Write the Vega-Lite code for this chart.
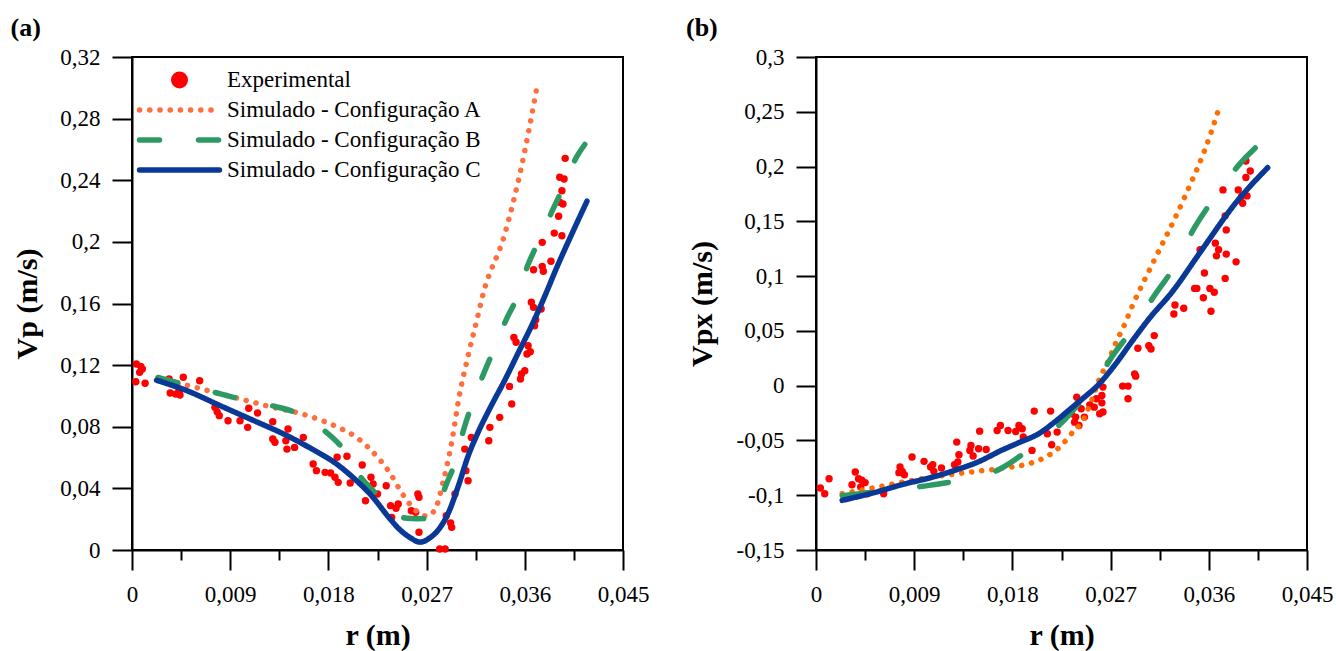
{
  "$schema": "https://vega.github.io/schema/vega-lite/v6.json",
  "background": "white",
  "padding": {"left": 9, "top": 14, "right": 5, "bottom": 5},
  "bounds": "flush",
  "spacing": 193,
  "config": {
    "font": "Liberation Serif, Times New Roman, serif",
    "view": {"stroke": "black", "strokeWidth": 2},
    "axis": {"grid": false, "domainColor": "black", "domainWidth": 2, "tickColor": "black", "tickWidth": 2, "labelColor": "black", "labelFont": "Liberation Serif, Times New Roman, serif", "labelFontSize": 23, "titleFont": "Liberation Serif, Times New Roman, serif", "titleFontSize": 30, "titleFontWeight": "bold", "titleColor": "black"},
    "legend": {"labelFont": "Liberation Serif, Times New Roman, serif"},
    "title": {"font": "Liberation Serif, Times New Roman, serif", "fontSize": 26, "fontWeight": "bold", "color": "black", "anchor": "start", "frame": "group"}
  },
  "datasets": {
    "ptsA": [
      {"r":0.0004,"v":0.1207},{"r":0.0008,"v":0.1192},{"r":0.00095,"v":0.1175},{"r":0.0007,"v":0.1153},{"r":0.00035,"v":0.1092},{"r":0.0012,"v":0.1082},{"r":0.0034,"v":0.111},{"r":0.0041,"v":0.1077},{"r":0.0047,"v":0.1121},{"r":0.0062,"v":0.1099},{"r":0.0035,"v":0.1019},{"r":0.004,"v":0.1012},{"r":0.0044,"v":0.1006},{"r":0.0043,"v":0.1034},{"r":0.0076,"v":0.0926},{"r":0.0078,"v":0.0898},{"r":0.008,"v":0.0872},{"r":0.0088,"v":0.0839},{"r":0.0099,"v":0.0839},{"r":0.0106,"v":0.0796},{"r":0.0107,"v":0.092},{"r":0.0115,"v":0.0889},{"r":0.0129,"v":0.0833},{"r":0.0129,"v":0.072},{"r":0.0131,"v":0.0699},{"r":0.0143,"v":0.0785},{"r":0.0141,"v":0.0709},{"r":0.0142,"v":0.0655},{"r":0.0149,"v":0.0666},{"r":0.0157,"v":0.0731},{"r":0.0166,"v":0.0558},{"r":0.0169,"v":0.0515},{"r":0.0177,"v":0.0504},{"r":0.0182,"v":0.05},{"r":0.0186,"v":0.0472},{"r":0.0189,"v":0.0439},{"r":0.0188,"v":0.0602},{"r":0.0197,"v":0.0608},{"r":0.02,"v":0.0435},{"r":0.0211,"v":0.0552},{"r":0.0214,"v":0.032},{"r":0.0219,"v":0.0472},{"r":0.0221,"v":0.0428},{"r":0.0225,"v":0.0363},{"r":0.0233,"v":0.0417},
      {"r":0.0237,"v":0.0288},{"r":0.0242,"v":0.0271},{"r":0.0244,"v":0.0299},{"r":0.0238,"v":0.0212},{"r":0.0256,"v":0.0255},{"r":0.026,"v":0.0245},{"r":0.0262,"v":0.0363},{"r":0.0263,"v":0.0342},{"r":0.0263,"v":0.0115},{"r":0.0282,"v":0.0006},{"r":0.0287,"v":0.0006},{"r":0.0288,"v":0.0223},{"r":0.0292,"v":0.0175},{"r":0.0293,"v":0.0147},{"r":0.0296,"v":0.0363},{"r":0.0306,"v":0.0515},{"r":0.0308,"v":0.045},{"r":0.0305,"v":0.0655},{"r":0.0311,"v":0.0731},{"r":0.0327,"v":0.0709},{"r":0.0328,"v":0.0796},{"r":0.0337,"v":0.0861},{"r":0.0348,"v":0.0948},{"r":0.0346,"v":0.1062},{"r":0.0356,"v":0.111},{"r":0.0357,"v":0.1142},{"r":0.036,"v":0.1164},{"r":0.035,"v":0.138},{"r":0.0352,"v":0.1348},{"r":0.0363,"v":0.1326},{"r":0.0365,"v":0.1287},{"r":0.0362,"v":0.1272},{"r":0.0369,"v":0.1456},{"r":0.037,"v":0.1495},{"r":0.0366,"v":0.1608},{"r":0.0368,"v":0.1575},{"r":0.0375,"v":0.1564},
      {"r":0.0397,"v":0.2542},{"r":0.0392,"v":0.2419},{"r":0.0396,"v":0.2408},{"r":0.0394,"v":0.2332},{"r":0.0392,"v":0.2257},{"r":0.0395,"v":0.2246},{"r":0.0391,"v":0.2166},{"r":0.0387,"v":0.2057},{"r":0.0394,"v":0.204},{"r":0.0376,"v":0.1997},{"r":0.0384,"v":0.1874},{"r":0.0368,"v":0.1819},{"r":0.0376,"v":0.1841},{"r":0.0377,"v":0.1809}
    ],
    "ptsB": [
      {"r":0.0004,"v":-0.0934},{"r":0.0008,"v":-0.0986},{"r":0.0012,"v":-0.0849},{"r":0.0036,"v":-0.0788},{"r":0.0033,"v":-0.0904},{"r":0.0039,"v":-0.0849},{"r":0.0042,"v":-0.0864},{"r":0.0045,"v":-0.0885},{"r":0.0041,"v":-0.0925},{"r":0.0047,"v":-0.0986},{"r":0.0062,"v":-0.0986},{"r":0.0077,"v":-0.0743},{"r":0.0079,"v":-0.0782},{"r":0.0076,"v":-0.0794},{"r":0.0081,"v":-0.0813},{"r":0.0088,"v":-0.0651},{"r":0.0099,"v":-0.0691},{"r":0.0105,"v":-0.0743},{"r":0.0107,"v":-0.0722},{"r":0.0108,"v":-0.0782},{"r":0.0115,"v":-0.0752},{"r":0.0129,"v":-0.0515},{"r":0.0131,"v":-0.063},{"r":0.013,"v":-0.0697},{"r":0.0127,"v":-0.0722},{"r":0.0142,"v":-0.0546},{"r":0.0141,"v":-0.0591},{"r":0.0149,"v":-0.0576},{"r":0.0156,"v":-0.0582},{"r":0.0144,"v":-0.0642},{"r":0.015,"v":-0.0415},{"r":0.0166,"v":-0.0409},{"r":0.0169,"v":-0.0363},{"r":0.0176,"v":-0.0409},{"r":0.0183,"v":-0.0418},{"r":0.0186,"v":-0.0363},{"r":0.0189,"v":-0.0394},{"r":0.019,"v":-0.0469},{"r":0.0198,"v":-0.0591},{"r":0.02,"v":-0.0232},{"r":0.0215,"v":-0.0232},{"r":0.0212,"v":-0.0439},{"r":0.0221,"v":-0.0424},{"r":0.0216,"v":-0.0539},{"r":0.0234,"v":-0.0257},{"r":0.0237,"v":-0.0333},
      {"r":0.0239,"v":-0.0105},{"r":0.0243,"v":-0.0211},{"r":0.0238,"v":-0.0287},{"r":0.0241,"v":-0.0363},{"r":0.0246,"v":-0.0287},{"r":0.0251,"v":-0.0175},{"r":0.0255,"v":-0.0196},{"r":0.0257,"v":-0.012},{"r":0.0262,"v":-0.009},{"r":0.0262,"v":-0.0157},{"r":0.026,"v":-0.0257},{"r":0.0263,"v":-0.0241},{"r":0.0263,"v":-0.0013},{"r":0.0281,"v":-0.0004},{"r":0.0286,"v":-0.0004},{"r":0.0286,"v":-0.012},{"r":0.0292,"v":0.0108},{"r":0.0293,"v":0.0087},{"r":0.0305,"v":0.0365},{"r":0.0307,"v":0.0335},{"r":0.031,"v":0.0457},{"r":0.0295,"v":0.0341},{"r":0.0328,"v":0.0654},{"r":0.0337,"v":0.0706},{"r":0.0329,"v":0.0736},
      {"r":0.0347,"v":0.0888},{"r":0.0349,"v":0.0888},{"r":0.0356,"v":0.1028},{"r":0.0355,"v":0.0803},{"r":0.0361,"v":0.0888},{"r":0.0365,"v":0.0852},{"r":0.0362,"v":0.0679},{"r":0.0375,"v":0.0979},{"r":0.0352,"v":0.124},{"r":0.0366,"v":0.1301},{"r":0.0369,"v":0.124},{"r":0.0367,"v":0.1185},{"r":0.0376,"v":0.1201},{"r":0.0385,"v":0.113},{"r":0.0375,"v":0.155},{"r":0.0376,"v":0.1422},{"r":0.0373,"v":0.1787},{"r":0.0387,"v":0.1787},{"r":0.039,"v":0.1726},{"r":0.0391,"v":0.1665},{"r":0.0395,"v":0.1732},{"r":0.0394,"v":0.19},{"r":0.0398,"v":0.196},{"r":0.0394,"v":0.2051}
    ],
    "linesA": [
      {"s":"Simulado - Configuração A","r":0.0024,"v":0.112},{"s":"Simulado - Configuração A","r":0.005,"v":0.107},{"s":"Simulado - Configuração A","r":0.0076,"v":0.1023},{"s":"Simulado - Configuração A","r":0.0105,"v":0.097},{"s":"Simulado - Configuração A","r":0.0129,"v":0.0926},{"s":"Simulado - Configuração A","r":0.0156,"v":0.0883},{"s":"Simulado - Configuração A","r":0.0176,"v":0.0835},{"s":"Simulado - Configuração A","r":0.0189,"v":0.0796},{"s":"Simulado - Configuração A","r":0.0206,"v":0.073},{"s":"Simulado - Configuração A","r":0.0218,"v":0.0655},{"s":"Simulado - Configuração A","r":0.0236,"v":0.0504},{"s":"Simulado - Configuração A","r":0.0249,"v":0.0352},{"s":"Simulado - Configuração A","r":0.0262,"v":0.0245},{"s":"Simulado - Configuração A","r":0.027,"v":0.022},{"s":"Simulado - Configuração A","r":0.0278,"v":0.0266},{"s":"Simulado - Configuração A","r":0.0285,"v":0.0439},{"s":"Simulado - Configuração A","r":0.0293,"v":0.0699},{"s":"Simulado - Configuração A","r":0.03,"v":0.1001},{"s":"Simulado - Configuração A","r":0.0308,"v":0.126},{"s":"Simulado - Configuração A","r":0.0317,"v":0.152},{"s":"Simulado - Configuração A","r":0.0321,"v":0.164},{"s":"Simulado - Configuração A","r":0.0342,"v":0.206},{"s":"Simulado - Configuração A","r":0.0357,"v":0.249},{"s":"Simulado - Configuração A","r":0.0371,"v":0.3},
      {"s":"Simulado - Configuração B","r":0.0024,"v":0.112},{"s":"Simulado - Configuração B","r":0.0045,"v":0.108},{"s":"Simulado - Configuração B","r":0.0076,"v":0.1023},{"s":"Simulado - Configuração B","r":0.0105,"v":0.097},{"s":"Simulado - Configuração B","r":0.0129,"v":0.0935},{"s":"Simulado - Configuração B","r":0.0152,"v":0.0885},{"s":"Simulado - Configuração B","r":0.0165,"v":0.083},{"s":"Simulado - Configuração B","r":0.0177,"v":0.0771},{"s":"Simulado - Configuração B","r":0.0194,"v":0.0652},{"s":"Simulado - Configuração B","r":0.021,"v":0.0469},{"s":"Simulado - Configuração B","r":0.0226,"v":0.0349},{"s":"Simulado - Configuração B","r":0.0238,"v":0.026},{"s":"Simulado - Configuração B","r":0.025,"v":0.0208},{"s":"Simulado - Configuração B","r":0.0262,"v":0.0203},{"s":"Simulado - Configuração B","r":0.0273,"v":0.0206},{"s":"Simulado - Configuração B","r":0.0281,"v":0.029},{"s":"Simulado - Configuração B","r":0.0288,"v":0.0425},{"s":"Simulado - Configuração B","r":0.0296,"v":0.0566},{"s":"Simulado - Configuração B","r":0.0304,"v":0.0782},{"s":"Simulado - Configuração B","r":0.0311,"v":0.0933},{"s":"Simulado - Configuração B","r":0.0322,"v":0.1139},{"s":"Simulado - Configuração B","r":0.0331,"v":0.129},{"s":"Simulado - Configuração B","r":0.0343,"v":0.1496},{"s":"Simulado - Configuração B","r":0.0352,"v":0.1626},{"s":"Simulado - Configuração B","r":0.0363,"v":0.1853},{"s":"Simulado - Configuração B","r":0.0372,"v":0.1994},{"s":"Simulado - Configuração B","r":0.0385,"v":0.2199},{"s":"Simulado - Configuração B","r":0.0395,"v":0.2351},{"s":"Simulado - Configuração B","r":0.0407,"v":0.2545},{"s":"Simulado - Configuração B","r":0.0415,"v":0.2632},
      {"s":"Simulado - Configuração C","r":0.00225,"v":0.1102},{"s":"Simulado - Configuração C","r":0.005,"v":0.1035},{"s":"Simulado - Configuração C","r":0.0082,"v":0.0933},{"s":"Simulado - Configuração C","r":0.011,"v":0.0845},{"s":"Simulado - Configuração C","r":0.0143,"v":0.0739},{"s":"Simulado - Configuração C","r":0.0165,"v":0.0655},{"s":"Simulado - Configuração C","r":0.0186,"v":0.0566},{"s":"Simulado - Configuração C","r":0.0205,"v":0.0455},{"s":"Simulado - Configuração C","r":0.022,"v":0.0349},{"s":"Simulado - Configuração C","r":0.0235,"v":0.0215},{"s":"Simulado - Configuração C","r":0.0245,"v":0.0135},{"s":"Simulado - Configuração C","r":0.0255,"v":0.008},{"s":"Simulado - Configuração C","r":0.0264,"v":0.0051},{"s":"Simulado - Configuração C","r":0.0273,"v":0.0079},{"s":"Simulado - Configuração C","r":0.0281,"v":0.0133},{"s":"Simulado - Configuração C","r":0.029,"v":0.0241},{"s":"Simulado - Configuração C","r":0.0299,"v":0.0414},{"s":"Simulado - Configuração C","r":0.0308,"v":0.0609},{"s":"Simulado - Configuração C","r":0.0317,"v":0.0761},{"s":"Simulado - Configuração C","r":0.0329,"v":0.0933},{"s":"Simulado - Configuração C","r":0.0342,"v":0.1107},{"s":"Simulado - Configuração C","r":0.0354,"v":0.128},{"s":"Simulado - Configuração C","r":0.0366,"v":0.1452},{"s":"Simulado - Configuração C","r":0.0377,"v":0.1626},{"s":"Simulado - Configuração C","r":0.039,"v":0.1845},{"s":"Simulado - Configuração C","r":0.0403,"v":0.205},{"s":"Simulado - Configuração C","r":0.0417,"v":0.2264}
    ],
    "linesB": [
      {"s":"A","r":0.0024,"v":-0.0986},{"s":"A","r":0.0052,"v":-0.0934},{"s":"A","r":0.0097,"v":-0.0849},{"s":"A","r":0.0142,"v":-0.0788},{"s":"A","r":0.0168,"v":-0.0758},{"s":"A","r":0.0204,"v":-0.0682},{"s":"A","r":0.0225,"v":-0.0545},{"s":"A","r":0.0237,"v":-0.0405},{"s":"A","r":0.0243,"v":-0.0344},{"s":"A","r":0.0251,"v":-0.0177},{"s":"A","r":0.026,"v":0.0067},{"s":"A","r":0.0268,"v":0.0229},{"s":"A","r":0.0275,"v":0.0396},{"s":"A","r":0.0283,"v":0.0563},{"s":"A","r":0.029,"v":0.073},{"s":"A","r":0.0306,"v":0.1064},{"s":"A","r":0.0337,"v":0.1702},{"s":"A","r":0.0361,"v":0.2279},{"s":"A","r":0.037,"v":0.2552},
      {"s":"B","r":0.0024,"v":-0.1005},{"s":"B","r":0.0055,"v":-0.097},{"s":"B","r":0.0096,"v":-0.092},{"s":"B","r":0.0127,"v":-0.0874},{"s":"B","r":0.0169,"v":-0.0758},{"s":"B","r":0.0193,"v":-0.06},{"s":"B","r":0.021,"v":-0.047},{"s":"B","r":0.0226,"v":-0.033},{"s":"B","r":0.0247,"v":-0.009},{"s":"B","r":0.0258,"v":0.004},{"s":"B","r":0.0269,"v":0.023},{"s":"B","r":0.0288,"v":0.049},{"s":"B","r":0.031,"v":0.082},{"s":"B","r":0.0328,"v":0.108},{"s":"B","r":0.0347,"v":0.1444},{"s":"B","r":0.0364,"v":0.17},{"s":"B","r":0.0388,"v":0.202},{"s":"B","r":0.0411,"v":0.2248},
      {"s":"C","r":0.0024,"v":-0.1047},{"s":"C","r":0.005,"v":-0.0985},{"s":"C","r":0.0082,"v":-0.0895},{"s":"C","r":0.0105,"v":-0.084},{"s":"C","r":0.0127,"v":-0.0773},{"s":"C","r":0.015,"v":-0.069},{"s":"C","r":0.0169,"v":-0.0595},{"s":"C","r":0.0186,"v":-0.052},{"s":"C","r":0.0204,"v":-0.0439},{"s":"C","r":0.0219,"v":-0.033},{"s":"C","r":0.0234,"v":-0.0205},{"s":"C","r":0.0246,"v":-0.0105},{"s":"C","r":0.0258,"v":0},{"s":"C","r":0.0274,"v":0.019},{"s":"C","r":0.029,"v":0.041},{"s":"C","r":0.0306,"v":0.062},{"s":"C","r":0.0326,"v":0.085},{"s":"C","r":0.0352,"v":0.1216},{"s":"C","r":0.0385,"v":0.1672},{"s":"C","r":0.0414,"v":0.199}
    ]
  },
  "hconcat": [
    {
      "width": 491,
      "height": 493,
      "title": {"text": "(a)", "dx": -121.5, "offset": 5, "font": "Liberation Serif, Times New Roman, serif"},
      "layer": [
        {
          "data": {"name": "ptsA"},
          "mark": {"type": "circle", "size": 55, "opacity": 1},
          "encoding": {
            "x": {"field": "r", "type": "quantitative", "scale": {"domain": [0, 0.045], "nice": false},
              "axis": {"title": "r (m)", "values": [0,0.0045,0.009,0.0135,0.018,0.0225,0.027,0.0315,0.036,0.0405,0.045],
                "labelExpr": "indexof([0,0.009,0.018,0.027,0.036,0.045], datum.value) >= 0 ? replace(datum.value + '', '.', ',') : ''",
                "tickSize": {"condition": {"test": "indexof([0,0.009,0.018,0.027,0.036,0.045], datum.value) >= 0", "value": 20}, "value": 10},
                "labelFont": "Liberation Serif, Times New Roman, serif", "titleFont": "Liberation Serif, Times New Roman, serif",
                "labelPadding": 13, "titlePadding": 14, "labelFlush": false, "labelOverlap": false}},
            "y": {"field": "v", "type": "quantitative", "scale": {"domain": [0, 0.32], "nice": false},
              "axis": {"title": "Vp (m/s)", "values": [0,0.02,0.04,0.06,0.08,0.1,0.12,0.14,0.16,0.18,0.2,0.22,0.24,0.26,0.28,0.3,0.32],
                "labelExpr": "indexof([0,0.04,0.08,0.12,0.16,0.2,0.24,0.28,0.32], datum.value) >= 0 ? replace(datum.value + '', '.', ',') : ''",
                "tickSize": {"condition": {"test": "indexof([0,0.04,0.08,0.12,0.16,0.2,0.24,0.28,0.32], datum.value) >= 0", "value": 20}, "value": 10},
                "labelFont": "Liberation Serif, Times New Roman, serif", "titleFont": "Liberation Serif, Times New Roman, serif",
                "labelPadding": 12, "titlePadding": 17, "labelFlush": false, "labelOverlap": false}},
            "color": {"datum": "Experimental"}
          }
        },
        {
          "data": {"name": "linesA"},
          "mark": {"type": "line", "strokeWidth": 5.5, "strokeCap": "round", "interpolate": "monotone"},
          "encoding": {
            "x": {"field": "r", "type": "quantitative"},
            "y": {"field": "v", "type": "quantitative"},
            "color": {"field": "s", "type": "nominal",
              "scale": {"domain": ["Experimental", "Simulado - Configuração A", "Simulado - Configuração B", "Simulado - Configuração C"], "range": ["#ff0000", "#ff6e3f", "#2e9a63", "#0a3896"]},
              "legend": {"title": null, "orient": "none", "legendX": -5, "legendY": 11, "padding": 0,
                "labelFont": "Liberation Serif, Times New Roman, serif", "labelFontSize": 23, "labelColor": "black", "labelLimit": 400,
                "symbolSize": 289, "symbolStrokeWidth": 5, "rowPadding": 6, "labelOffset": 36, "symbolOffset": 41, "clipHeight": 24,
                "encode": {"symbols": {"update": {
                  "shape": {"signal": "datum.index === 0 ? 'circle' : 'M-4.7,0H4.7'"},
                  "fill": {"signal": "datum.index === 0 ? '#ff0000' : 'transparent'"},
                  "stroke": {"signal": "['transparent', '#ff6e3f', '#2e9a63', '#0a3896'][datum.index]"},
                  "strokeWidth": {"signal": "datum.index === 0 ? 0 : 5.5"},
                  "strokeDash": {"signal": "[[1, 0], [0.1, 10.1], [20, 39], [1, 0]][datum.index]"},
                  "strokeCap": {"value": "round"},
                  "opacity": {"value": 1}
                }}}}},
            "strokeDash": {"field": "s", "type": "nominal",
              "scale": {"domain": ["Simulado - Configuração A", "Simulado - Configuração B", "Simulado - Configuração C"], "range": [[0.1, 10], [20, 39], [1, 0]]},
              "legend": null}
          }
        }
      ]
    },
    {
      "width": 491,
      "height": 493,
      "title": {"text": "(b)", "dx": -130, "offset": 5, "font": "Liberation Serif, Times New Roman, serif"},
      "layer": [
        {
          "mark": {"type": "rule", "color": "black", "strokeWidth": 1.5, "strokeDash": [11, 7]},
          "encoding": {"y": {"datum": 0, "type": "quantitative"}}
        },
        {
          "data": {"name": "ptsB"},
          "mark": {"type": "circle", "size": 55, "opacity": 1, "color": "#ff0000"},
          "encoding": {
            "x": {"field": "r", "type": "quantitative", "scale": {"domain": [0, 0.045], "nice": false},
              "axis": {"title": "r (m)", "values": [0,0.0045,0.009,0.0135,0.018,0.0225,0.027,0.0315,0.036,0.0405,0.045],
                "labelExpr": "indexof([0,0.009,0.018,0.027,0.036,0.045], datum.value) >= 0 ? replace(datum.value + '', '.', ',') : ''",
                "tickSize": {"condition": {"test": "indexof([0,0.009,0.018,0.027,0.036,0.045], datum.value) >= 0", "value": 20}, "value": 10},
                "labelFont": "Liberation Serif, Times New Roman, serif", "titleFont": "Liberation Serif, Times New Roman, serif",
                "labelPadding": 13, "titlePadding": 14, "labelFlush": false, "labelOverlap": false}},
            "y": {"field": "v", "type": "quantitative", "scale": {"domain": [-0.15, 0.3], "nice": false, "zero": false},
              "axis": {"title": "Vpx (m/s)", "values": [-0.15,-0.125,-0.1,-0.075,-0.05,-0.025,0,0.025,0.05,0.075,0.1,0.125,0.15,0.175,0.2,0.225,0.25,0.275,0.3],
                "labelExpr": "indexof([-0.15,-0.1,-0.05,0,0.05,0.1,0.15,0.2,0.25,0.3], datum.value) >= 0 ? replace(datum.value + '', '.', ',') : ''",
                "tickSize": {"condition": {"test": "indexof([-0.15,-0.1,-0.05,0,0.05,0.1,0.15,0.2,0.25,0.3], datum.value) >= 0", "value": 20}, "value": 10},
                "labelFont": "Liberation Serif, Times New Roman, serif", "titleFont": "Liberation Serif, Times New Roman, serif",
                "labelPadding": 12, "titlePadding": 19, "labelFlush": false, "labelOverlap": false}}
          }
        },
        {
          "data": {"name": "linesB"},
          "mark": {"type": "line", "strokeWidth": 5.5, "strokeCap": "round", "interpolate": "monotone"},
          "encoding": {
            "x": {"field": "r", "type": "quantitative"},
            "y": {"field": "v", "type": "quantitative"},
            "color": {"field": "s", "type": "nominal", "scale": {"domain": ["A", "B", "C"], "range": ["#ff6d00", "#2e9a63", "#0a3896"]}, "legend": null},
            "strokeDash": {"field": "s", "type": "nominal", "scale": {"domain": ["A", "B", "C"], "range": [[0.1, 10], [29, 49], [1, 0]]}, "legend": null}
          }
        }
      ]
    }
  ],
  "resolve": {"scale": {"color": "independent", "strokeDash": "independent"}}
}
